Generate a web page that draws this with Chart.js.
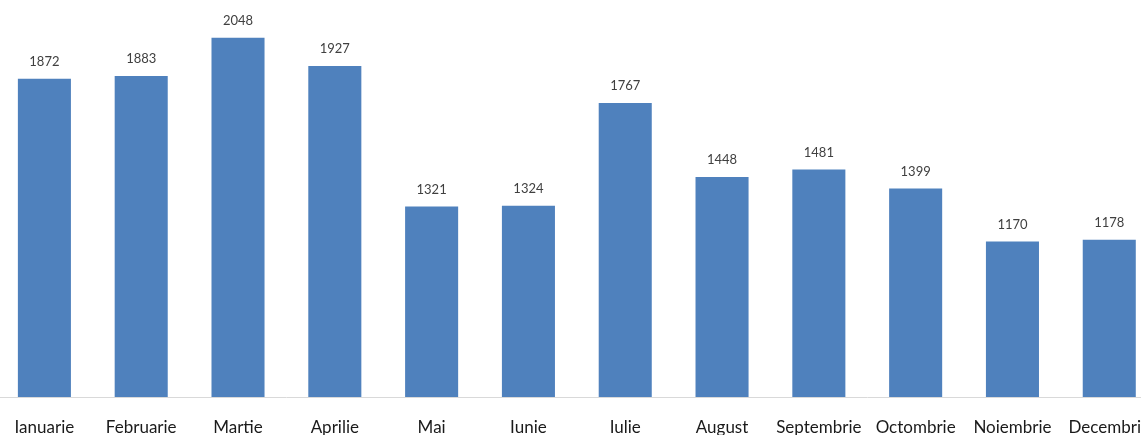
<!DOCTYPE html>
<html>
<head>
<meta charset="utf-8">
<script src="https://cdn.jsdelivr.net/npm/chart.js@4"></script>
<style>
  html, body { margin: 0; padding: 0; background: #fff; overflow: hidden; }
  #myChart { position: absolute; left: -4px; top: 0; }
</style>
</head>
<body>
<canvas id="myChart" width="1166" height="435"></canvas>
<script>
const months = ['Ianuarie', 'Februarie', 'Martie', 'Aprilie', 'Mai', 'Iunie',
  'Iulie', 'August', 'Septembrie', 'Octombrie', 'Noiembrie', 'Decembrie'];
const values = [1872, 1883, 2048, 1927, 1321, 1324, 1767, 1448, 1481, 1399, 1170, 1178];

// value labels above bars (no datalabels plugin available offline)
const barLabels = {
  id: 'barLabels',
  afterDatasetsDraw(chart) {
    const ctx = chart.ctx;
    const meta = chart.getDatasetMeta(0);
    ctx.save();
    ctx.font = '13px Lato';
    ctx.fillStyle = '#404040';
    ctx.textAlign = 'center';
    ctx.textBaseline = 'middle';
    meta.data.forEach((bar, i) => {
      ctx.fillText(String(values[i]), bar.x, bar.y - 17);
    });
    ctx.restore();
  }
};

const ctx = document.getElementById('myChart');
new Chart(ctx, {
  type: 'bar',
  data: {
    labels: months,
    datasets: [{
      data: values,
      backgroundColor: '#4f81bd',
      borderWidth: 0,
      categoryPercentage: 1,
      barPercentage: 0.548
    }]
  },
  options: {
    responsive: false,
    animation: false,
    layout: { padding: 0 },
    plugins: {
      legend: { display: false },
      tooltip: { enabled: false }
    },
    scales: {
      x: {
        grid: { display: false },
        border: { display: true, color: '#d9d9d9', width: 1 },
        ticks: {
          color: '#1a1a1a',
          font: { family: 'Lato', size: 17 },
          padding: 12,
          maxRotation: 0,
          autoSkip: false
        },
        afterFit(scale) { scale.height = 38; }
      },
      y: {
        display: false,
        min: 500,
        max: 2211
      }
    }
  },
  plugins: [barLabels]
});
</script>
</body>
</html>
